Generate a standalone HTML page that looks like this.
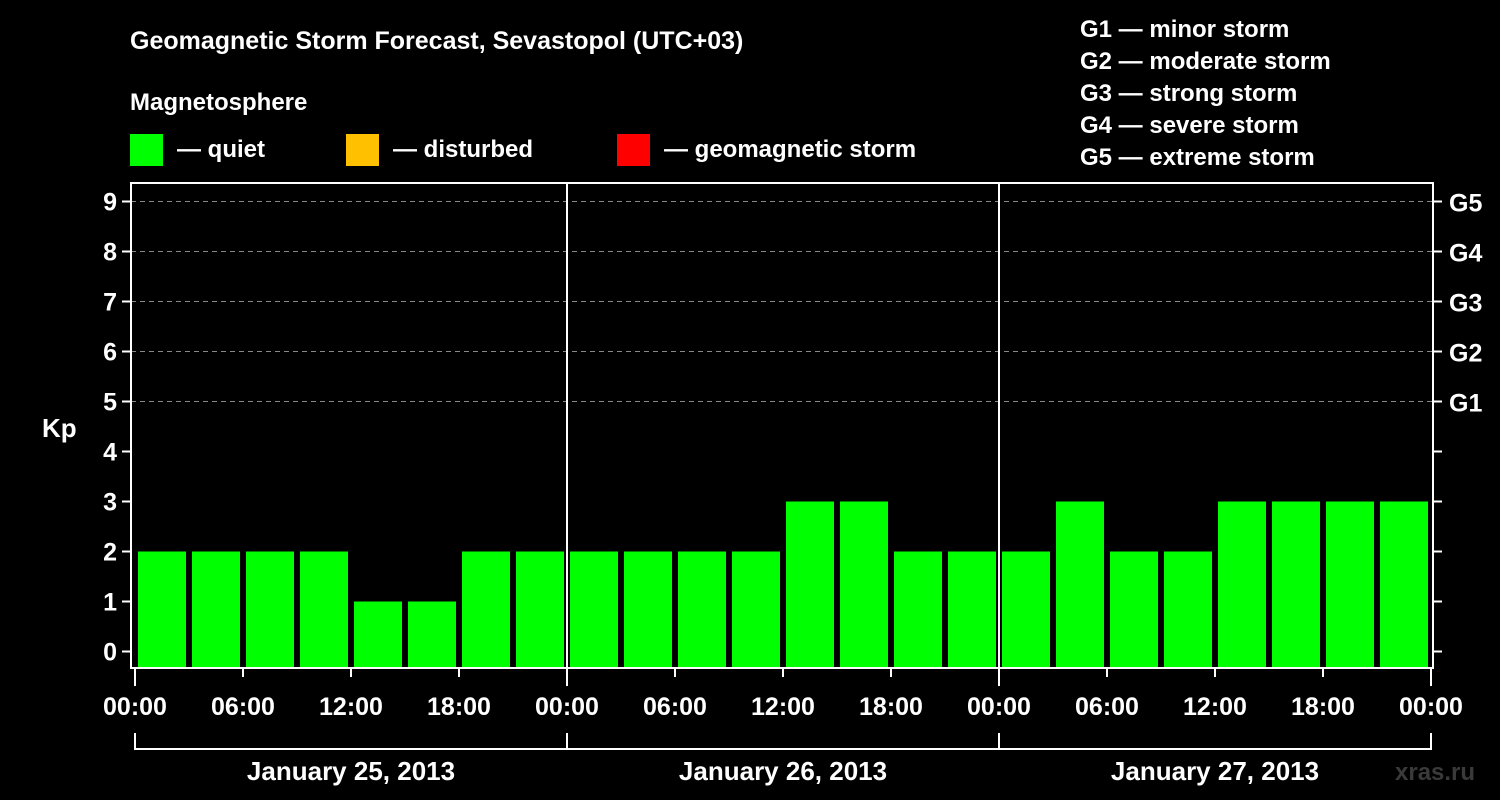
<!DOCTYPE html>
<html><head><meta charset="utf-8"><style>
html,body{margin:0;padding:0;background:#000;width:1500px;height:800px;overflow:hidden}
svg text{font-family:"Liberation Sans",Arial,sans-serif;font-weight:bold;fill:#fff}
</style></head><body>
<svg id="chart" width="1500" height="800" xmlns="http://www.w3.org/2000/svg">
<rect width="1500" height="800" fill="#000"/>
<text x="130" y="49" font-size="25">Geomagnetic Storm Forecast, Sevastopol (UTC+03)</text>
<text x="130" y="110" font-size="24">Magnetosphere</text>
<rect x="130" y="134" width="33" height="32" fill="#00ff00"/>
<text x="177" y="157" font-size="24">— quiet</text>
<rect x="346" y="134" width="33" height="32" fill="#ffc000"/>
<text x="393" y="157" font-size="24">— disturbed</text>
<rect x="617" y="134" width="33" height="32" fill="#ff0000"/>
<text x="664" y="157" font-size="24">— geomagnetic storm</text>
<g font-size="24">
<text x="1080" y="37">G1 — minor storm</text>
<text x="1080" y="69">G2 — moderate storm</text>
<text x="1080" y="101">G3 — strong storm</text>
<text x="1080" y="133">G4 — severe storm</text>
<text x="1080" y="165">G5 — extreme storm</text>
</g>
<text x="42" y="437" font-size="26">Kp</text>
<text x="1395" y="780" font-size="24" fill="#333" style="fill:#3a3a3a">xras.ru</text>
<g id="grid"></g><g id="bars"></g><g id="axes"></g>
</svg>
<script>
const kpValues=[2,2,2,2,1,1,2,2, 2,2,2,2,3,3,2,2, 2,3,2,2,3,3,3,3];
const dayLabels=["January 25, 2013","January 26, 2013","January 27, 2013"];
const hourLabels=["00:00","06:00","12:00","18:00"];
const gLabels=["G1","G2","G3","G4","G5"];
const NS="http://www.w3.org/2000/svg";
const L=131,R=1433,T=183,B=668,X0=135,DAYW=432;
const y=v=>651.5-50*v;
const x=h=>X0+h*DAYW/24;
function mk(tag,attrs,parent,text){const e=document.createElementNS(NS,tag);for(const k in attrs)e.setAttribute(k,attrs[k]);if(text!==undefined)e.textContent=text;document.getElementById(parent).appendChild(e);return e;}
for(let v=0;v<=9;v++){
  if(v>=5){const g=mk('line',{x1:L,x2:R,y1:y(v),y2:y(v),stroke:'#888','stroke-width':1,'stroke-dasharray':'5,4'},'grid');
  
  }
  const t=mk('line',{x1:L-9,x2:L,y1:y(v),y2:y(v),stroke:'#fff','stroke-width':2},'axes');
  
  
  const rt=mk('line',{x1:R,x2:R+9,y1:y(v),y2:y(v),stroke:'#fff','stroke-width':2},'axes');
  
  
  const lb=mk('text',{x:L-14,y:y(v)+9,'font-size':25,'text-anchor':'end'},'axes',String(v));
  
  
  if(v>=5){const gl=mk('text',{x:R+16,y:y(v)+10,'font-size':25},'axes',gLabels[v-5]);
  
  }
}
kpValues.forEach((v,i)=>{
  const b=mk('rect',{x:x(i*3)+3,y:y(v),width:DAYW/8-6,height:B-y(v),fill:'#00ff00'},'bars');
  
  
});
const fr=mk('rect',{x:L,y:T,width:R-L,height:B-T,fill:'none',stroke:'#fff','stroke-width':2},'axes');


for(let d=1;d<dayLabels.length;d++){
  const s=mk('line',{x1:x(24*d),x2:x(24*d),y1:T,y2:B,stroke:'#fff','stroke-width':2},'axes');
  
  
}
for(let h=0;h<=24*dayLabels.length;h+=6){
  const tk=mk('line',{x1:x(h),x2:x(h),y1:B,y2:B+(h%24===0?18:9),stroke:'#fff','stroke-width':2},'axes');
  
  
  const tl=mk('text',{x:x(h),y:715,'font-size':25,'text-anchor':'middle'},'axes',hourLabels[(h/6)%4]);
  
  
}
const br=mk('polyline',{points:`${x(0)},733 ${x(0)},749 ${x(72)},749 ${x(72)},733`,fill:'none',stroke:'#fff','stroke-width':2},'axes');


dayLabels.forEach((d,i)=>{
  if(i>0){const bt=mk('line',{x1:x(24*i),x2:x(24*i),y1:733,y2:749,stroke:'#fff','stroke-width':2},'axes');
  
  }
  const dl=mk('text',{x:x(24*i+12),y:780,'font-size':26,'text-anchor':'middle'},'axes',d);
  
  
});
</script>
</body></html>
